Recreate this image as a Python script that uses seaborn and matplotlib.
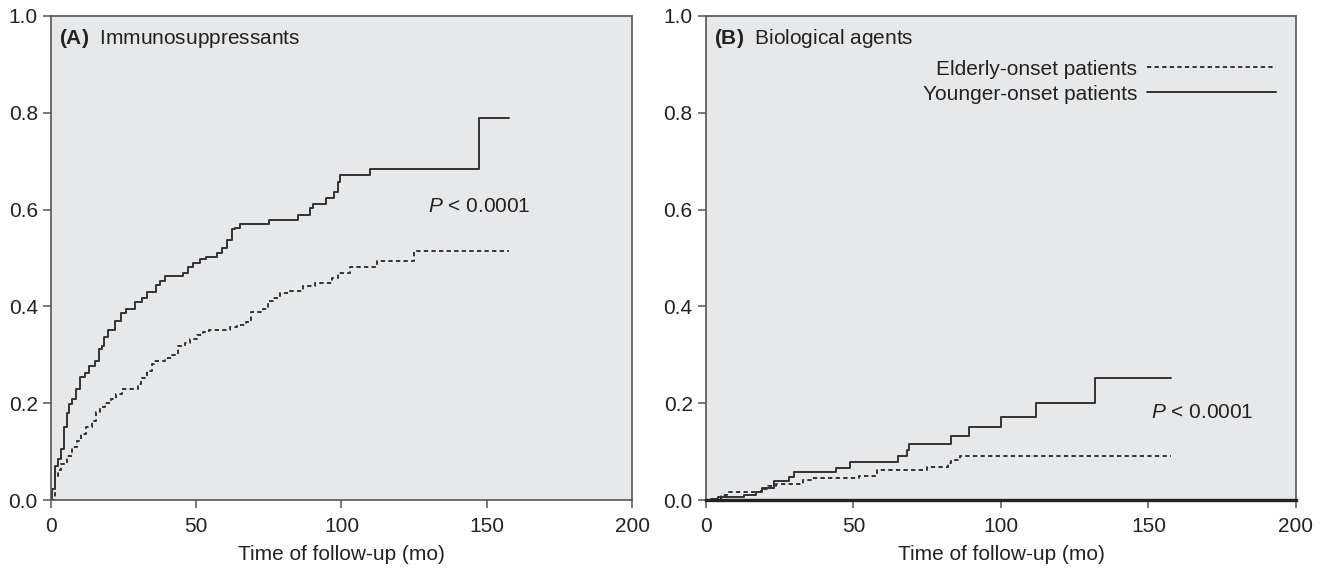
import numpy as np
import pandas as pd
import matplotlib
matplotlib.use("Agg")
import matplotlib.pyplot as plt
import seaborn as sns

sns.set_style("white", {"axes.facecolor": "#e7e8ea", "axes.edgecolor": "#555555"})
plt.rcParams['font.family'] = ['Liberation Sans', 'DejaVu Sans']
plt.rcParams['mathtext.fontset'] = 'custom'
plt.rcParams['mathtext.rm'] = 'Liberation Sans'
plt.rcParams['mathtext.it'] = 'Liberation Sans:italic'
plt.rcParams['mathtext.bf'] = 'Liberation Sans:bold'

groups = ["Elderly-onset patients", "Younger-onset patients"]

# (A) Immunosuppressants
tA_young = [0, 0.5, 1.4, 2.5, 3.6, 4.4, 5.4, 6.3, 7.1, 8.6,
            10, 11.7, 13.2, 15.1, 16.5, 17.4, 18.2, 19.7, 22, 24,
            26, 29, 31.3, 33, 36.2, 37.6, 39.3, 45.6, 47, 49,
            51.3, 53.4, 57, 59, 60.5, 62.2, 63.3, 65, 75, 85,
            89, 90.2, 94.5, 97.5, 98.7, 99.5, 109.8, 147.5, 157.6]
cA_young = [0, 0.023, 0.071, 0.085, 0.105, 0.15, 0.18, 0.198, 0.208, 0.229,
            0.255, 0.262, 0.276, 0.287, 0.311, 0.318, 0.336, 0.351, 0.37, 0.387,
            0.394, 0.409, 0.418, 0.429, 0.445, 0.452, 0.462, 0.469, 0.482, 0.489,
            0.497, 0.503, 0.511, 0.521, 0.538, 0.559, 0.562, 0.571, 0.579, 0.589,
            0.604, 0.612, 0.624, 0.636, 0.658, 0.672, 0.684, 0.789, 0.789]
tA_old = [0, 1.4, 2.5, 3.6, 5.4, 7.1, 9, 10.5, 12.2, 14,
          15.5, 16.8, 18.5, 20.8, 22.5, 24.5, 30, 31, 33, 34.7,
          35.3, 39.3, 41.6, 43.9, 46, 47.9, 50.2, 52.5, 54.5, 61.6,
          63.9, 67.3, 69, 73, 74.8, 76.3, 78.8, 82.3, 86.9, 91,
          96.6, 98.9, 103, 112.2, 124.8, 157.6]
cA_old = [0, 0.047, 0.061, 0.074, 0.091, 0.109, 0.122, 0.136, 0.15, 0.164,
          0.181, 0.192, 0.2, 0.208, 0.218, 0.23, 0.239, 0.253, 0.267, 0.28,
          0.287, 0.293, 0.299, 0.318, 0.325, 0.332, 0.34, 0.347, 0.351, 0.357,
          0.362, 0.367, 0.388, 0.395, 0.411, 0.418, 0.427, 0.432, 0.442, 0.449,
          0.458, 0.468, 0.481, 0.493, 0.514, 0.514]

# (B) Biological agents
tB_young = [0, 1.7, 4, 13, 17, 19, 23, 28, 30, 44,
            49, 65, 68, 69, 83, 89, 100, 112, 132, 157.7]
cB_young = [0, 0.003, 0.006, 0.01, 0.016, 0.024, 0.04, 0.048, 0.058, 0.067,
            0.078, 0.09, 0.104, 0.116, 0.132, 0.151, 0.172, 0.2, 0.253, 0.253]
tB_old = [0, 1.7, 5, 7, 18.6, 21, 23.6, 33, 35.5, 52, 58, 75, 82, 83, 86, 157.7]
cB_old = [0, 0.003, 0.01, 0.017, 0.023, 0.028, 0.033, 0.042, 0.045, 0.049,
          0.062, 0.069, 0.076, 0.083, 0.091, 0.091]

xticks = [0, 50, 100, 150, 200]
yticks = [0.0, 0.2, 0.4, 0.6, 0.8, 1.0]

FS = 15


def make_df(t_old, c_old, t_young, c_young):
    d1 = pd.DataFrame({"time": t_old, "cum": c_old, "group": groups[0]})
    d2 = pd.DataFrame({"time": t_young, "cum": c_young, "group": groups[1]})
    return pd.concat([d1, d2], ignore_index=True)


fig = plt.figure(figsize=(13.2, 5.7), dpi=100)
axA = fig.add_axes([0.0386, 0.1228, 0.4402, 0.8492])
axB = fig.add_axes([0.5348, 0.1228, 0.4470, 0.8492])

panels = [
    (axA, make_df(tA_old, cA_old, tA_young, cA_young), r"$\mathbf{(A)}$  Immunosuppressants", (129.7, 0.594)),
    (axB, make_df(tB_old, cB_old, tB_young, cB_young), r"$\mathbf{(B)}$  Biological agents", (151, 0.17)),
]

for ax, df, title, ppos in panels:
    sns.lineplot(data=df, x="time", y="cum", style="group", style_order=groups,
                 dashes={groups[0]: (2.2, 1.7), groups[1]: ""},
                 color="#333333", linewidth=1.4, drawstyle="steps-post",
                 estimator=None, ax=ax, legend=(ax is axB))
    ax.set_xlim(0, 200)
    ax.set_ylim(0, 1)
    ax.set_xticks(xticks)
    ax.set_yticks(yticks)
    ax.set_yticklabels(["{:.1f}".format(v) for v in yticks])
    ax.set_xlabel("Time of follow-up (mo)", fontsize=FS, color="#222222", labelpad=7)
    ax.set_ylabel("")
    ax.tick_params(axis="both", direction="out", length=6, width=1.1, color="#555555",
                   labelsize=FS, labelcolor="#222222", bottom=True, left=True)
    ax.tick_params(axis="x", pad=6)
    ax.tick_params(axis="y", pad=3.5)
    for s in ax.spines.values():
        s.set_visible(True)
        s.set_linewidth(1.2)
        s.set_color("#555555")
    ax.text(0.014, 0.942, title, transform=ax.transAxes, fontsize=FS,
            va="baseline", color="#222222")
    ax.text(ppos[0], ppos[1], r"$P$ < 0.0001", fontsize=FS, va="baseline", color="#222222")

axB.spines["bottom"].set_linewidth(2.4)
axB.spines["bottom"].set_color("#222222")

handles, labels = axB.get_legend_handles_labels()
keep = [(h, l) for h, l in zip(handles, labels) if l in groups]
axB.legend([h for h, l in keep], [l for h, l in keep], loc="upper right",
           bbox_to_anchor=(0.966, 0.91), frameon=False, markerfirst=False,
           handlelength=6.2, handletextpad=0.45, labelspacing=0.3,
           borderaxespad=0, borderpad=0, fontsize=FS, labelcolor="#222222")

fig.savefig("out.png", dpi=100)
